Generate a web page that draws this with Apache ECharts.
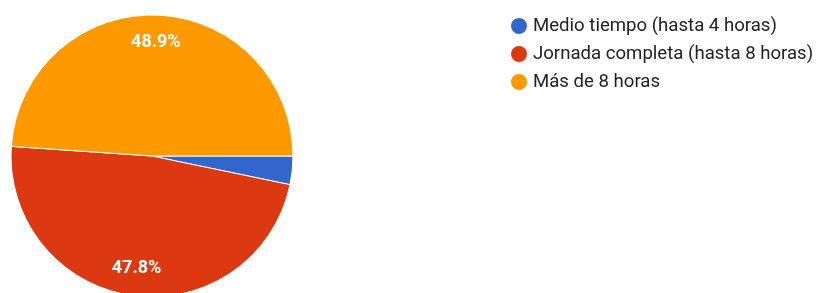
<!DOCTYPE html>
<html>
<head>
<meta charset="utf-8">
<script src="https://cdn.jsdelivr.net/npm/echarts@6/dist/echarts.min.js"></script>
<style>
  html, body { margin: 0; padding: 0; background: #fff; }
  #chart { width: 820px; height: 293px; }
</style>
</head>
<body>
<div id="chart"></div>
<script>
// respuestas por categoria
const categories = ['Medio tiempo (hasta 4 horas)', 'Jornada completa (hasta 8 horas)', 'Más de 8 horas'];
const counts = [3, 44, 45];
const colors = ['#3366CC', '#DC3912', '#FF9900'];

const chart = echarts.init(document.getElementById('chart'));

const pieData = categories.map((name, i) => ({
  name: name,
  value: counts[i],
  itemStyle: { color: colors[i] }
}));

const option = {
  animation: false,
  legend: {
    orient: 'vertical',
    left: 504,
    top: 11,
    icon: 'circle',
    itemWidth: 18,
    itemHeight: 18,
    itemGap: 8,
    textStyle: {
      fontFamily: 'Roboto',
      fontSize: 18.6,
      color: '#222'
    },
    data: categories
  },
  series: [
    {
      type: 'pie',
      center: [152, 156],
      radius: [0, 141],
      startAngle: 0,
      clockwise: true,
      label: { show: false },
      labelLine: { show: false },
      itemStyle: { borderColor: '#fff', borderWidth: 1 },
      emphasis: { disabled: true },
      data: pieData
    },
    {
      // capa invisible solo para poner los porcentajes mas hacia el borde
      type: 'pie',
      center: [152, 156],
      radius: [80, 141],
      startAngle: 0,
      clockwise: true,
      silent: true,
      legendHoverLink: false,
      itemStyle: { color: 'rgba(0,0,0,0)' },
      label: {
        show: true,
        position: 'inside',
        fontFamily: 'Roboto',
        fontSize: 18,
        fontWeight: 'bold',
        color: '#fff',
        formatter: p => p.percent < 5 ? '' : p.percent.toFixed(1) + '%'
      },
      labelLine: { show: false },
      data: categories.map((name, i) => ({ name: name + ' ', value: counts[i] }))
    }
  ]
};

chart.setOption(option);
</script>
</body>
</html>
